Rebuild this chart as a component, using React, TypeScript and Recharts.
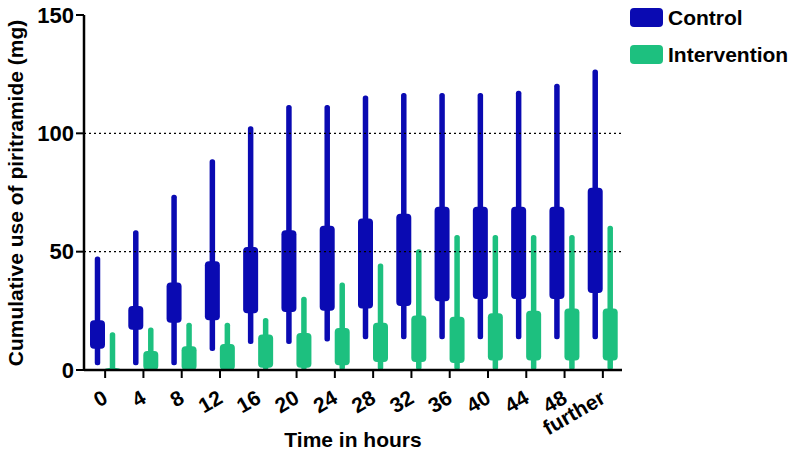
import { ComposedChart, Bar, XAxis, YAxis, ReferenceLine, Label } from "recharts";

const HOURS = ["0", "4", "8", "12", "16", "20", "24", "28", "32", "36", "40", "44", "48", "further"];

// Control group: min / Q1 / Q3 / max (mg)
const CONTROL_MIN = [2, 2, 2, 8, 11, 11, 12, 13, 13, 13, 13, 13, 13, 13];
const CONTROL_Q1 = [9, 17, 20, 21, 24, 24.5, 25, 26, 27, 29, 30, 30, 30, 32.5];
const CONTROL_Q3 = [21, 27, 37, 46, 52, 59, 61, 64, 66, 69, 69, 69, 69, 77];
const CONTROL_MAX = [48, 59, 74, 89, 103, 112, 112, 116, 117, 117, 117, 118, 121, 127];

// Intervention group: min / Q1 / Q3 / max (mg)
const INTERV_MIN = [0, 0, 0, 0, 0, 0, 0, 0, 0, 0, 0, 0, 0, 0];
const INTERV_Q1 = [0, 0, 0, 0, 1, 1, 2, 3.4, 3.4, 3, 4, 4, 4, 4];
const INTERV_Q3 = [0.8, 8, 10, 11, 15, 15.6, 17.7, 20, 23, 22.5, 24, 25, 26, 26];
const INTERV_MAX = [16, 18, 20, 20, 22, 31, 37, 45, 51, 57, 57, 57, 57, 61];

const BLUE = "#0A0AB2";
const GREEN = "#1DC07F";
const FONT = "'Liberation Sans', Arial, sans-serif";

const data = HOURS.map((h, i) => ({
  hour: h,
  control: [CONTROL_MIN[i], CONTROL_MAX[i]],
  cMin: CONTROL_MIN[i],
  cQ1: CONTROL_Q1[i],
  cQ3: CONTROL_Q3[i],
  cMax: CONTROL_MAX[i],
  intervention: [INTERV_MIN[i], INTERV_MAX[i]],
  iMin: INTERV_MIN[i],
  iQ1: INTERV_Q1[i],
  iQ3: INTERV_Q3[i],
  iMax: INTERV_MAX[i],
}));

// draws whisker (min..max) + box (Q1..Q3) from the range bar's own geometry
function boxShape(prefix: string, color: string) {
  return (props: any) => {
    const { x, y, width, height, payload } = props;
    const lo = payload[prefix + "Min"];
    const hi = payload[prefix + "Max"];
    const top = Math.min(y, y + height);
    const h = Math.abs(height);
    const py = (v: number) => top + (h * (hi - v)) / (hi - lo);
    const cx = x + width / 2;
    const ww = 5.5;
    const yTop = py(payload[prefix + "Q3"]);
    const yBot = py(payload[prefix + "Q1"]);
    return (
      <g>
        <rect x={cx - ww / 2} y={top} width={ww} height={h} rx={2.5} fill={color} />
        <rect x={x} y={yTop} width={width} height={Math.max(yBot - yTop, 3)} rx={4} fill={color} />
      </g>
    );
  };
}

const XTick = ({ x, y, payload }: any) => (
  <g transform={`translate(${x + 4},${y + 22})`}>
    <text
      textAnchor="end"
      transform="rotate(-30)"
      fontSize={21}
      fontWeight="bold"
      fontFamily={FONT}
      fill="#000"
    >
      {payload.value}
    </text>
  </g>
);

const LEGEND = [
  { name: "Control", color: BLUE },
  { name: "Intervention", color: GREEN },
];

const LegendBox = () => (
  <svg width={172} height={70} style={{ position: "absolute", left: 628, top: 0 }}>
    {LEGEND.map((d, i) => (
      <g key={d.name} transform={`translate(0,${i * 37})`}>
        <rect x={2} y={8} width={33} height={19} rx={4} fill={d.color} />
        <text x={40} y={25} fontSize={21} fontWeight="bold" fontFamily={FONT} fill="#000">
          {d.name}
        </text>
      </g>
    ))}
  </svg>
);

export default function App() {
  return (
    <div style={{ position: "absolute", left: 0, top: 0, width: 800, height: 455, background: "#fff", fontFamily: FONT }}>
      <ComposedChart
        width={800}
        height={455}
        data={data}
        margin={{ top: 15, right: 178, left: 0, bottom: 0 }}
        barSize={15}
        barGap={0}
      >
        <XAxis
          dataKey="hour"
          height={85}
          padding={{ left: 2, right: 0 }}
          axisLine={{ stroke: "#000", strokeWidth: 2.5 }}
          tickLine={{ stroke: "#000", strokeWidth: 2 }}
          tickSize={8}
          tick={<XTick />}
          interval={0}
        >
          <Label
            content={({ viewBox }: any) => (
              <text
                x={viewBox.x + viewBox.width / 2}
                y={447}
                textAnchor="middle"
                fontSize={21}
                fontWeight="bold"
                fontFamily={FONT}
                fill="#000"
              >
                Time in hours
              </text>
            )}
          />
        </XAxis>
        <YAxis
          width={84}
          domain={[0, 150]}
          ticks={[0, 50, 100, 150]}
          axisLine={{ stroke: "#000", strokeWidth: 2.5 }}
          tickLine={{ stroke: "#000", strokeWidth: 2 }}
          tickSize={8}
          tickMargin={2}
          tick={{ fontSize: 22, fontWeight: "bold", fill: "#000", fontFamily: FONT }}
        >
          <Label
            content={() => (
              <text
                transform="translate(23,193) rotate(-90)"
                textAnchor="middle"
                fontSize={21}
                fontWeight="bold"
                fontFamily={FONT}
                fill="#000"
              >
                Cumulative use of piritramide (mg)
              </text>
            )}
          />
        </YAxis>
        <ReferenceLine y={50} stroke="#000" strokeWidth={1.2} strokeDasharray="2 3" />
        <ReferenceLine y={100} stroke="#000" strokeWidth={1.2} strokeDasharray="2 3" />
        <Bar dataKey="control" shape={boxShape("c", BLUE)} isAnimationActive={false} />
        <Bar dataKey="intervention" shape={boxShape("i", GREEN)} isAnimationActive={false} />
      </ComposedChart>
      <LegendBox />
    </div>
  );
}
